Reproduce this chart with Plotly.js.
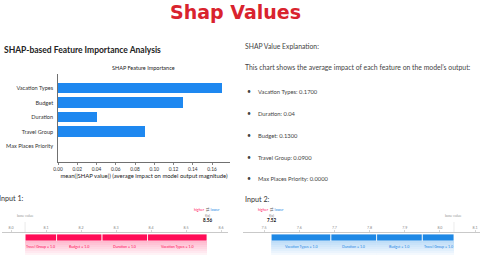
<!DOCTYPE html>
<html><head><meta charset="utf-8">
<script src="https://cdn.plot.ly/plotly-3.0.1.min.js"></script>
<style>html,body{margin:0;padding:0;background:#fff;}#c{width:480px;height:255px;}</style>
</head><body><div id="c"></div>
<script>
// ---- data ----
const features = ['Vacation Types', 'Budget', 'Duration', 'Travel Group', 'Max Places Priority'];
const importance = [0.17, 0.13, 0.04, 0.09, 0.0];
const xTicks = [0, 0.02, 0.04, 0.06, 0.08, 0.10, 0.12, 0.14, 0.16];
const bulletItems = ['Vacation Types: 0.1700', 'Duration: 0.04', 'Budget: 0.1300', 'Travel Group: 0.0900', 'Max Places Priority: 0.0000'];

const baseValue = 8.04;
const input1Features = ['Travel Group', 'Budget', 'Duration', 'Vacation Types'];
const input1Shap = [0.09, 0.13, 0.13, 0.17];
const input1Vals = ['1.0', '1.0', '1.0', '1.0'];
const input1Fx = 8.56;
const input1Ticks = [8.0, 8.1, 8.2, 8.3, 8.4, 8.5, 8.6];

const input2Features = ['Vacation Types', 'Duration', 'Budget', 'Travel Group'];
const input2Shap = [-0.17, -0.13, -0.13, -0.09];
const input2Vals = ['1.0', '1.0', '1.0', '1.0'];
const input2Fx = 7.52;
const input2Ticks = [7.5, 7.6, 7.7, 7.8, 7.9, 8.0, 8.1];

// ---- helpers ----
const W = 480, H = 255;
const px = x => x / W, py = y => 1 - y / H;
const PINK = '#FF0D57', BLUE = '#1E88E5';
const TXT = 'Lato, "Liberation Sans", sans-serif';
const annotations = [];
function txt(x, y, text, size, color, opts) {
  annotations.push(Object.assign({xref: 'paper', yref: 'paper', x: px(x), y: py(y), text: text,
    showarrow: false, xanchor: 'left', yanchor: 'middle',
    font: {family: TXT, size: size, color: color}}, opts || {}));
}

// headings
txt(235, 12, 'Shap Values', 19, '#D9232E', {xanchor: 'center', font: {family: '"DejaVu Sans", sans-serif', size: 19, color: '#D9232E', weight: 700}});
txt(2, 50, 'SHAP-based Feature Importance Analysis', 8.5, '#222', {font: {family: TXT, size: 8.5, color: '#222', weight: 700}});
txt(143, 68, 'SHAP Feature Importance', 5.5, '#222', {xanchor: 'center'});
txt(243, 46, 'SHAP Value Explanation:', 6.8, '#444');
txt(243, 67, 'This chart shows the average impact of each feature on the model\u2019s output:', 6.85, '#444');
const bulletY = [91, 113, 135, 157, 178];
bulletItems.forEach((b, i) => {
  txt(245, bulletY[i], '\u2022', 7, '#444');
  txt(256, bulletY[i], b, 5.8, '#444');
});
txt(-3, 198, 'Input 1:', 7.2, '#333');
txt(243, 199, 'Input 2:', 7.2, '#333');

// ---- traces ----
const traces = [];
traces.push({type: 'bar', orientation: 'h', y: features, x: importance, xaxis: 'x', yaxis: 'y',
  marker: {color: '#1E88F0'}, width: 0.73, hoverinfo: 'none'});

const shapes = [];
// segments are laid out left to right, starting from the leftmost point (base for input 1, f(x) for input 2)
function force(feats, shap, vals, start, color, xa, ya, rgb) {
  let cur = start;
  feats.forEach((f, i) => {
    const w = Math.abs(shap[i]);
    const a = cur, b = cur + w;
    traces.push({type: 'bar', orientation: 'h', y: [0], x: [w], base: [a], xaxis: xa, yaxis: ya,
      width: 1, marker: {color: color, line: {color: '#fff', width: 0.8}}, hoverinfo: 'none'});
    for (let k = 0; k < 7; k++) {
      shapes.push({type: 'rect', xref: xa, yref: 'paper', x0: a, x1: b, y0: py(241 + 2 * k), y1: py(241 + 2 * (k + 1)),
        fillcolor: 'rgba(' + rgb + ',' + (0.28 - 0.038 * k).toFixed(3) + ')', line: {width: 0}, layer: 'below'});
    }
    annotations.push({xref: xa, yref: 'paper', x: (a + b) / 2, y: py(250.5), text: f + ' = ' + vals[i],
      showarrow: false, font: {family: TXT, size: 3.6, color: color}});
    cur = b;
  });
}
force(input1Features, input1Shap, input1Vals, baseValue, PINK, 'x2', 'y2', '255,13,87');
force(input2Features, input2Shap, input2Vals, input2Fx, BLUE, 'x3', 'y3', '30,136,229');

// force plot labels
function forceLabels(xa, fx, fxText) {
  annotations.push({xref: xa, yref: 'paper', x: fx, y: py(214), text: '<span style="color:' + PINK + '">higher</span>  <span style="color:#999">\u21c4</span>  <span style="color:' + BLUE + '">lower</span>',
    showarrow: false, font: {family: TXT, size: 3.6, color: '#999'}});
  annotations.push({xref: xa, yref: 'paper', x: fx, y: py(219.5), text: 'f(x)', showarrow: false, font: {family: TXT, size: 3.6, color: '#777'}});
  annotations.push({xref: xa, yref: 'paper', x: fx, y: py(224.5), text: '<b>' + fxText + '</b>', showarrow: false, font: {family: TXT, size: 4.6, color: '#111'}});
  annotations.push({xref: xa, yref: 'paper', x: baseValue, y: py(219.5), text: 'base value', showarrow: false, font: {family: TXT, size: 3.6, color: '#999'}});
  shapes.push({type: 'line', xref: xa, yref: 'paper', x0: baseValue, x1: baseValue, y0: py(232), y1: py(222), line: {color: '#ddd', width: 0.6}});
}
forceLabels('x2', input1Fx, input1Fx.toFixed(2));
forceLabels('x3', input2Fx, input2Fx.toFixed(2));

const forceAxis = (dom, rng, ticks) => ({domain: dom, range: rng, anchor: 'free', position: py(232), side: 'top',
  tickvals: ticks, ticktext: ticks.map(t => t.toFixed(1)), ticks: 'outside', ticklen: 2, tickcolor: '#bbb', tickwidth: 0.6,
  showline: true, linecolor: '#bbb', linewidth: 0.8, showgrid: false, zeroline: false,
  tickfont: {family: TXT, size: 3.6, color: '#888'}, fixedrange: true});

const layout = {
  width: W, height: H, margin: {l: 0, r: 0, t: 0, b: 0}, paper_bgcolor: '#fff', plot_bgcolor: 'rgba(0,0,0,0)',
  showlegend: false, barmode: 'overlay', bargap: 0,
  xaxis: {domain: [px(58), px(230)], range: [0, 0.1787], anchor: 'y', tickvals: xTicks, tickformat: '.2f',
    ticks: 'outside', ticklen: 2.5, tickwidth: 0.6, tickcolor: '#333', showline: true, linecolor: '#333', linewidth: 0.7,
    showgrid: false, zeroline: false, tickfont: {family: TXT, size: 4.8, color: '#333'},
    title: {text: 'mean(|SHAP value|) (average impact on model output magnitude)', font: {family: TXT, size: 5.9, color: '#222'}, standoff: 2}},
  yaxis: {domain: [py(162), py(74)], range: [-1.1, 4.97], anchor: 'x', type: 'category',
    categoryorder: 'array', categoryarray: features.slice().reverse(),
    showline: true, linecolor: '#333', linewidth: 0.7, ticks: '', showgrid: false, zeroline: false,
    tickfont: {family: TXT, size: 5.6, color: '#333'}, ticklabelstandoff: 3},
  xaxis2: forceAxis([px(2), px(228)], [7.974, 8.62], input1Ticks),
  yaxis2: {domain: [py(241), py(234)], range: [-0.5, 0.5], anchor: 'x2', visible: false},
  xaxis3: forceAxis([px(243), px(480)], [7.44, 8.114], input2Ticks),
  yaxis3: {domain: [py(241), py(234)], range: [-0.5, 0.5], anchor: 'x3', visible: false},
  annotations: annotations, shapes: shapes
};
Plotly.newPlot('c', traces, layout, {staticPlot: true, displayModeBar: false});
</script></body></html>
